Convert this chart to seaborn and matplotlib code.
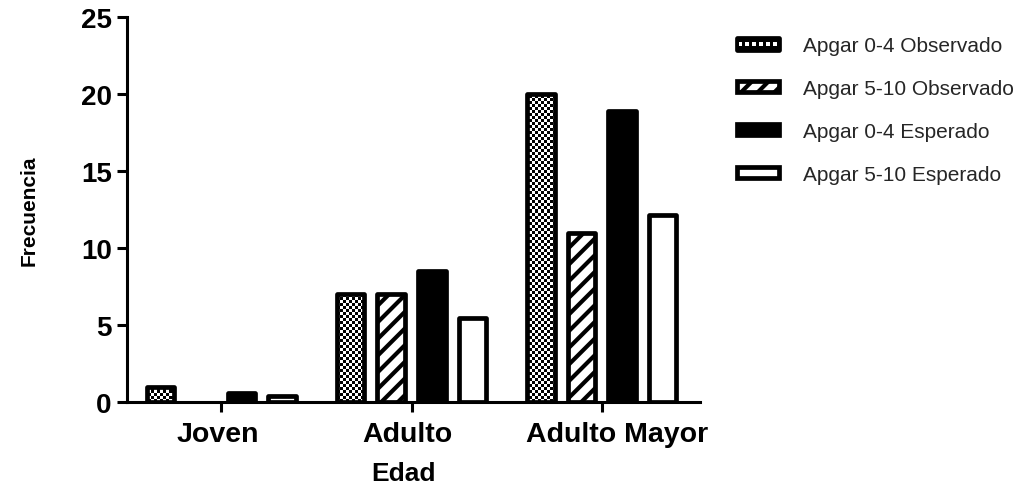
import numpy as np
import pandas as pd
import matplotlib
matplotlib.use("Agg")
import matplotlib.pyplot as plt
import matplotlib.transforms as mtransforms
import seaborn as sns
from matplotlib.patches import Patch, Rectangle
from matplotlib.legend_handler import HandlerBase

# Frecuencias observadas y esperadas por grupo de edad
edades = ["Joven", "Adulto", "Adulto Mayor"]
series = ["Apgar 0-4 Observado", "Apgar 5-10 Observado",
          "Apgar 0-4 Esperado", "Apgar 5-10 Esperado"]
obs_0_4 = [1, 7, 20]
obs_5_10 = [0, 7, 11]
esp_0_4 = [0.61, 8.52, 18.87]
esp_5_10 = [0.39, 5.48, 12.13]
yticks = [0, 5, 10, 15, 20, 25]

EDGE_LW = 3.4

sns.set_theme(style="white")
plt.rcParams["font.family"] = ["Liberation Sans", "DejaVu Sans"]
plt.rcParams["hatch.linewidth"] = 3.0
plt.rcParams["hatch.color"] = "black"

fig = plt.figure(figsize=(10.21, 4.89), dpi=100)
ax = fig.add_axes([127 / 1021, 86 / 489, 573 / 1021, 385 / 489])

df = pd.DataFrame({
    "Edad": edades * len(series),
    "Serie": np.repeat(series, len(edades)),
    "Frecuencia": obs_0_4 + obs_5_10 + esp_0_4 + esp_5_10,
})

sns.barplot(data=df, x="Edad", y="Frecuencia", hue="Serie",
            order=edades, hue_order=series,
            palette=["white", "white", "black", "white"], saturation=1,
            edgecolor="black", linewidth=EDGE_LW, errorbar=None,
            width=0.853, gap=0.32, legend=False, ax=ax)

# relleno y trama de cada serie
estilos = [((0, 0, 0, 0), None), ("white", "//"), ("black", None), ("white", None)]
for cont, (cara, trama) in zip(ax.containers, estilos):
    for barra in cont:
        barra.set_facecolor(cara)
        barra.set_hatch(trama)
        barra.set_joinstyle("round")
        if barra.get_height() == 0:
            barra.set_visible(False)

# tablero de ajedrez bajo las barras "Apgar 0-4 Observado"
nx, ny = 191, 128
tablero = (np.add.outer(np.arange(ny), np.arange(nx)) % 2).astype(float)
for barra in ax.containers[0]:
    im = ax.imshow(tablero, cmap="gray", vmin=0, vmax=1, extent=(0, 1, 0, 1),
                   transform=ax.transAxes, aspect="auto",
                   interpolation="nearest", zorder=0.5)
    im.set_clip_path(barra)

ax.set_xlim(-0.497, 2.518)
ax.set_ylim(0, 25)
ax.set_yticks(yticks)
ax.set_yticklabels([str(v) for v in yticks])

sns.despine(ax=ax)
for lado in ("left", "bottom"):
    ax.spines[lado].set_linewidth(2.2)
    ax.spines[lado].set_color("black")

ax.tick_params(axis="both", which="major", direction="out", length=7, width=2.2,
               color="black", labelcolor="black", bottom=True, left=True)
ax.tick_params(axis="y", pad=4, labelsize=20)
ax.tick_params(axis="x", pad=6.5, labelsize=20.5)
for lbl in ax.get_xticklabels() + ax.get_yticklabels():
    lbl.set_fontweight("bold")

# pequeño desplazamiento horizontal de cada rótulo de categoría (en píxeles)
desplazamientos = [-3.5, -4, 16]
for lbl, dx in zip(ax.get_xticklabels(), desplazamientos):
    lbl.set_transform(lbl.get_transform()
                      + mtransforms.ScaledTranslation(dx / 100, 0, fig.dpi_scale_trans))

ax.set_xlabel("Edad", fontsize=19, fontweight="bold", color="black")
ax.xaxis.set_label_coords(0.483, -0.152)
ax.set_ylabel("Frecuencia", fontsize=15, fontweight="bold", color="black")
ax.yaxis.set_label_coords(-0.155, 0.5)


class CheckerHandler(HandlerBase):
    def create_artists(self, legend, orig_handle, xdescent, ydescent,
                       width, height, fontsize, trans):
        x0, y0 = -xdescent, -ydescent
        caja = Rectangle((x0, y0), width, height, facecolor="black",
                         edgecolor="black", linewidth=EDGE_LW,
                         joinstyle="round", transform=trans)
        piezas = [caja]
        n = 6
        paso = width / n
        s = height * 0.35
        for i in range(n):
            cx = x0 + paso * (i + 0.5)
            piezas.append(Rectangle((cx - s / 2, y0 + height / 2 - s / 2), s, s,
                                    facecolor="white", edgecolor="none",
                                    transform=trans))
        return piezas


h_tablero = Patch(facecolor="black", edgecolor="black", linewidth=EDGE_LW)
handles = [
    h_tablero,
    Patch(facecolor="white", edgecolor="black", hatch="//", linewidth=EDGE_LW, joinstyle="round"),
    Patch(facecolor="black", edgecolor="black", linewidth=EDGE_LW, joinstyle="round"),
    Patch(facecolor="white", edgecolor="black", linewidth=EDGE_LW, joinstyle="round"),
]
fig.legend(handles, series, loc="upper left",
           bbox_to_anchor=(737 / 1021, 1 - 37.5 / 489), frameon=False,
           fontsize=15, handlelength=2.0, handleheight=0.45,
           handletextpad=1.19, labelspacing=1.14, borderpad=0,
           borderaxespad=0, handler_map={h_tablero: CheckerHandler()})

fig.savefig("out.png", dpi=100)
